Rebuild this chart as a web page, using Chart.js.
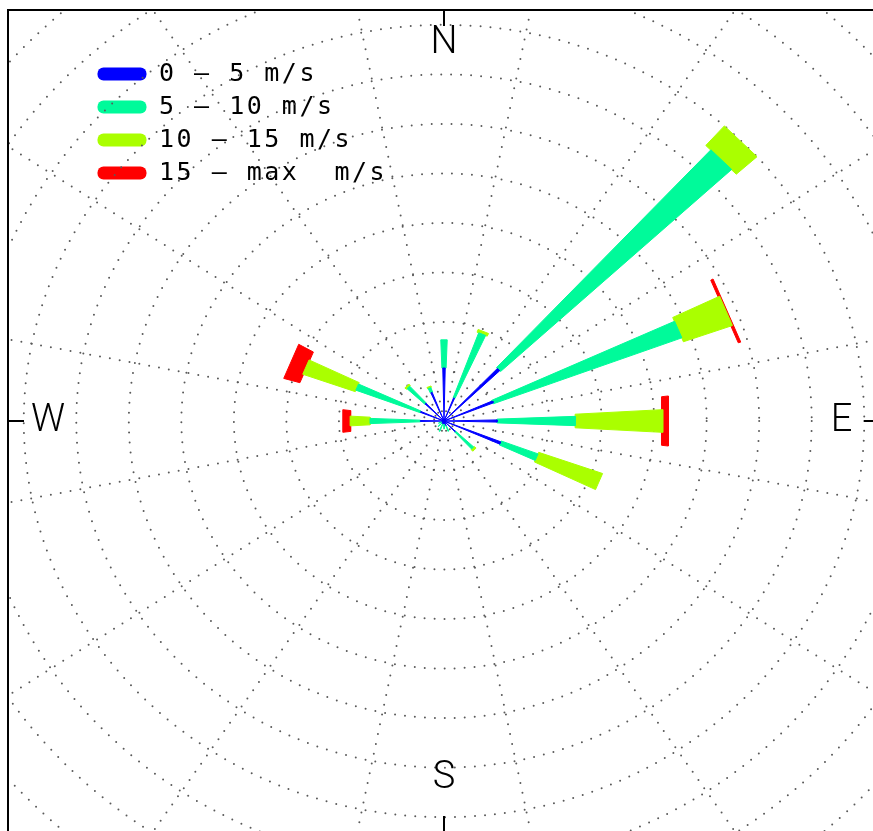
<!DOCTYPE html>
<html>
<head>
<meta charset="utf-8">
<script src="https://cdn.jsdelivr.net/npm/chart.js@4.4.1/dist/chart.umd.min.js"></script>
<style>
  html, body { margin: 0; padding: 0; overflow: hidden; background: #fff; }
  #wrap { position: absolute; left: 0; top: 0; width: 890px; height: 850px; }
</style>
</head>
<body>
<div id="wrap"><canvas id="windRose"></canvas></div>
<script>
// Wind directions, 16 sectors clockwise from north
const directions = ['N', 'NNE', 'NE', 'ENE', 'E', 'ESE', 'SE', 'SSE',
                    'S', 'SSW', 'SW', 'WSW', 'W', 'WNW', 'NW', 'NNW'];

// Speed classes
const speedClasses = ['0 – 5 m/s', '5 – 10 m/s', '10 – 15 m/s', '15 – max  m/s'];

// Frequency of each speed class per direction (ring units)
const freq0to5   = [1.07, 0.50, 1.47, 1.00, 1.01, 1.16, 0.30, 0.10, 0.06, 0.06, 0.05, 0.05, 0.45, 0.48, 0.50, 0.62];
const freq5to10  = [0.57, 1.40, 6.00, 3.83, 1.49, 0.75, 0.47, 0.12, 0.10, 0.16, 0.10, 0.06, 0.96, 1.31, 0.46, 0.10];
const freq10to15 = [0.00, 0.06, 0.53, 0.99, 1.67, 1.29, 0.05, 0.00, 0.00, 0.00, 0.00, 0.00, 0.38, 1.06, 0.04, 0.03];
const freq15up   = [0.00, 0.00, 0.00, 0.05, 0.13, 0.00, 0.00, 0.00, 0.00, 0.00, 0.00, 0.00, 0.15, 0.32, 0.00, 0.00];

// Grid rings
const ringValues = [1, 2, 3, 4, 5, 6, 7, 8, 9, 10, 11, 12];

// styling
const classColors = ['#0000ff', '#00fa9a', '#aaff00', '#ff0000'];
const classWidthsDeg = [2.5, 4.3, 6.3, 13.5];
const compassLabels = ['N', 'E', 'S', 'W'];
const compassLabelRadius = [7.63, 7.57, 7.21, 7.54];
const AXIS_MAX = 8.3;

const classSeries = [freq0to5, freq5to10, freq10to15, freq15up];

// polygon of one annular sector, in data units (y pointing north)
function sectorPoints(rIn, rOut, dirDeg, widthDeg) {
    const a1 = (dirDeg - widthDeg / 2) * Math.PI / 180;
    const a2 = (dirDeg + widthDeg / 2) * Math.PI / 180;
    const p = (r, a) => ({ x: r * Math.sin(a), y: r * Math.cos(a) });
    return [p(rIn, a1), p(rOut, a1), p(rOut, a2), p(rIn, a2), p(rIn, a1)];
}

const datasets = [];
directions.forEach((dir, d) => {
    const theta = d * 22.5;
    let inner = 0;
    classSeries.forEach((series, c) => {
        const outer = inner + series[d];
        if (series[d] > 0) {
            datasets.push({
                label: speedClasses[c] + ' ' + dir,
                data: sectorPoints(inner, outer, theta, classWidthsDeg[c]),
                showLine: true,
                fill: 'shape',
                backgroundColor: classColors[c],
                borderColor: classColors[c],
                borderWidth: 1,
                pointRadius: 0,
                tension: 0
            });
        }
        inner = outer;
    });
});

// dotted polar grid
const polarGrid = {
    id: 'polarGrid',
    beforeDatasetsDraw(chart) {
        const { ctx, chartArea, scales: { x, y } } = chart;
        const cx = x.getPixelForValue(0), cy = y.getPixelForValue(0);
        ctx.save();
        ctx.beginPath();
        ctx.rect(chartArea.left, chartArea.top, chartArea.width, chartArea.height);
        ctx.clip();
        ctx.strokeStyle = '#5a5a5a';
        ctx.lineWidth = 2;
        ctx.lineCap = 'round';
        ctx.setLineDash([0, 10]);
        ringValues.forEach(r => {
            ctx.beginPath();
            ctx.ellipse(cx, cy, x.getPixelForValue(r) - cx, cy - y.getPixelForValue(r), 0, 0, 2 * Math.PI);
            ctx.stroke();
        });
        const rMax = ringValues[ringValues.length - 1];
        for (let k = 0; k < 16; k++) {
            const t = (11.25 + 22.5 * k) * Math.PI / 180;
            ctx.beginPath();
            ctx.moveTo(cx, cy);
            ctx.lineTo(x.getPixelForValue(rMax * Math.sin(t)), y.getPixelForValue(rMax * Math.cos(t)));
            ctx.stroke();
        }
        ctx.restore();
        chart.ctx.letterSpacing = '0px';
    }
};

// frame, compass ticks and labels
const frameAndCompass = {
    id: 'frameAndCompass',
    beforeDraw(chart) {
        chart.ctx.letterSpacing = '2.5px';
    },
    afterDraw(chart) {
        const { ctx, chartArea: a, scales: { x, y } } = chart;
        const cx = x.getPixelForValue(0), cy = y.getPixelForValue(0);
        ctx.save();
        ctx.letterSpacing = '0px';
        ctx.strokeStyle = '#000';
        ctx.lineWidth = 2;
        ctx.strokeRect(a.left, a.top, a.width, a.height);
        const tick = 16;
        ctx.beginPath();
        ctx.moveTo(cx, a.top); ctx.lineTo(cx, a.top + tick);
        ctx.moveTo(cx, a.bottom); ctx.lineTo(cx, a.bottom - tick);
        ctx.moveTo(a.left, cy); ctx.lineTo(a.left + tick, cy);
        ctx.moveTo(a.right, cy); ctx.lineTo(a.right - tick, cy);
        ctx.stroke();
        ctx.fillStyle = '#000';
        ctx.font = '300 38px Roboto, "DejaVu Sans", sans-serif';
        ctx.textAlign = 'center';
        ctx.textBaseline = 'middle';
        compassLabels.forEach((lab, i) => {
            const t = i * 90 * Math.PI / 180;
            const r = compassLabelRadius[i];
            ctx.fillText(lab, x.getPixelForValue(r * Math.sin(t)), y.getPixelForValue(r * Math.cos(t)));
        });
        ctx.restore();
    }
};

// move the legend to the upper left inside the frame
const legendPlacement = {
    id: 'legendPlacement',
    afterLayout(chart) {
        chart.legend.left = 89.5;
        chart.legend.top = 53.5;
    }
};

const chart = new Chart(document.getElementById('windRose'), {
    type: 'scatter',
    data: { datasets: datasets },
    options: {
        responsive: true,
        maintainAspectRatio: false,
        animation: false,
        events: [],
        layout: { padding: { left: 8, top: 10, right: 10, bottom: 18 } },
        scales: {
            x: { type: 'linear', min: -AXIS_MAX, max: AXIS_MAX, display: false },
            y: { type: 'linear', min: -AXIS_MAX, max: AXIS_MAX, display: false }
        },
        plugins: {
            tooltip: { enabled: false },
            legend: {
                position: 'chartArea',
                align: 'start',
                labels: {
                    boxWidth: 49,
                    boxHeight: 13,
                    padding: 8,
                    color: '#000',
                    useBorderRadius: true,
                    borderRadius: 6,
                    font: { family: '"DejaVu Sans Mono", monospace', size: 25 },
                    generateLabels: () => speedClasses.map((text, i) => ({
                        text: text,
                        fillStyle: classColors[i],
                        strokeStyle: classColors[i],
                        lineWidth: 0,
                        borderRadius: 6,
                        hidden: false,
                        datasetIndex: i
                    }))
                }
            }
        }
    },
    plugins: [polarGrid, frameAndCompass, legendPlacement]
});
</script>
</body>
</html>
